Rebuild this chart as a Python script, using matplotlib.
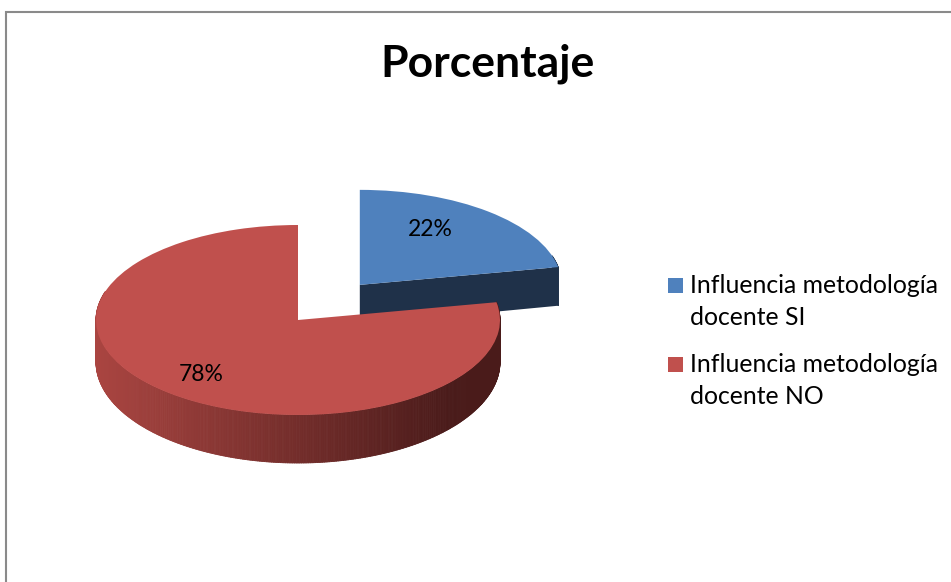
import numpy as np
import matplotlib.pyplot as plt
from matplotlib.patches import Rectangle, Polygon
from matplotlib.collections import PolyCollection
from matplotlib.colors import to_rgb

# data
labels = ["Influencia metodología\ndocente SI", "Influencia metodología\ndocente NO"]
values = [22, 78]
colors = ["#4F81BD", "#C0504D"]
explode = [0.48, 0]
title = "Porcentaje"

W, H = 951, 582
cx, cy = 298, 320      # pie centre in pixels (from top)
rx, ry = 202, 95       # ellipse radii in pixels


def depth(y):
    # thickness in y units, a little thinner toward the back (fake perspective)
    return (42 - 6 * y) / ry


plt.rcParams['font.family'] = ['Lato', 'DejaVu Sans']

fig = plt.figure(figsize=(W / 100, H / 100), dpi=100)
ax = fig.add_axes([0, 0, 1, 1])

wedges, _, autotexts = ax.pie(values, colors=colors, startangle=90, counterclock=False,
                              explode=explode, autopct='%1.0f%%', pctdistance=0.75,
                              wedgeprops=dict(linewidth=0),
                              textprops=dict(fontsize=16.5, color='black'))
ax.set_aspect('auto')
ax.set_xlim(-cx / rx, (W - cx) / rx)
ax.set_ylim(-(H - cy) / ry, cy / ry)
ax.axis('off')

side_blue = "#1F3149"
light, dark = np.array(to_rgb("#AA4541")), np.array(to_rgb("#4A1B1A"))

# sides of the 3d pie, back wedge first
order = sorted(range(len(wedges)), key=lambda i: -wedges[i].center[1])
for z, i in enumerate(order):
    w = wedges[i]
    x0, y0 = w.center
    t1, t2 = w.theta1, w.theta2
    w.set_zorder(2 * z + 2)
    # curved outer side
    th = np.radians(np.arange(t1, t2 + 0.5, 0.5))
    polys, fcs = [], []
    for a, b in zip(th[:-1], th[1:]):
        if np.sin(a) > 0.3 and np.sin(b) > 0.3:
            continue
        xa, xb = x0 + np.cos(a), x0 + np.cos(b)
        ya, yb = y0 + np.sin(a), y0 + np.sin(b)
        polys.append([(xa, ya), (xb, yb), (xb, yb - depth(yb)), (xa, ya - depth(ya))])
        if i == 1:
            t = np.clip((np.cos(a) + 1) / 1.75, 0, 1)
            fcs.append(light * (1 - t) + dark * t)
        else:
            fcs.append(to_rgb(side_blue))
    if polys:
        pc = PolyCollection(polys, facecolors=fcs, edgecolors=fcs, linewidths=0.6,
                            zorder=2 * z + 1)
        ax.add_collection(pc)
    # flat cut faces
    for ang, sgn in ((t1, -1), (t2, 1)):
        normal = np.radians(ang + sgn * 90)
        if np.sin(normal) < -0.05:
            a = np.radians(ang)
            ex, ey = x0 + np.cos(a), y0 + np.sin(a)
            face = Polygon([(x0, y0), (ex, ey), (ex, ey - depth(ey)), (x0, y0 - depth(y0))],
                           closed=True, facecolor=side_blue if i == 0 else "#5A2220",
                           edgecolor='none', zorder=2 * z + 1)
            ax.add_patch(face)

for t in autotexts:
    t.set_zorder(10)
# nudge the small slice label toward the centre of its face
px, py = autotexts[0].get_position()
autotexts[0].set_position((px - 0.13, py))

# title
fig.text(487 / W, 1 - 77 / H, title, ha='center', va='baseline',
         fontsize=32, fontweight='bold')

# legend
leg_y = [285, 364]
for c, lab, yy in zip(colors, labels, leg_y):
    fig.patches.append(Rectangle((668 / W, 1 - (yy + 7.5) / H), 15 / W, 15 / H,
                                 transform=fig.transFigure, facecolor=c, edgecolor='none'))
    line1, line2 = lab.split("\n")
    fig.text(690 / W, 1 - (yy + 8) / H, line1, ha='left', va='baseline', fontsize=17.8)
    fig.text(690 / W, 1 - (yy + 40) / H, line2, ha='left', va='baseline', fontsize=17.8)

# chart border
fig.patches.append(Rectangle((5.5 / W, -0.1), 1.2, 1 - 12 / H + 0.1,
                             transform=fig.transFigure, facecolor='none',
                             edgecolor='#8A8A8A', linewidth=1.5))

fig.savefig("out.png", dpi=100)
